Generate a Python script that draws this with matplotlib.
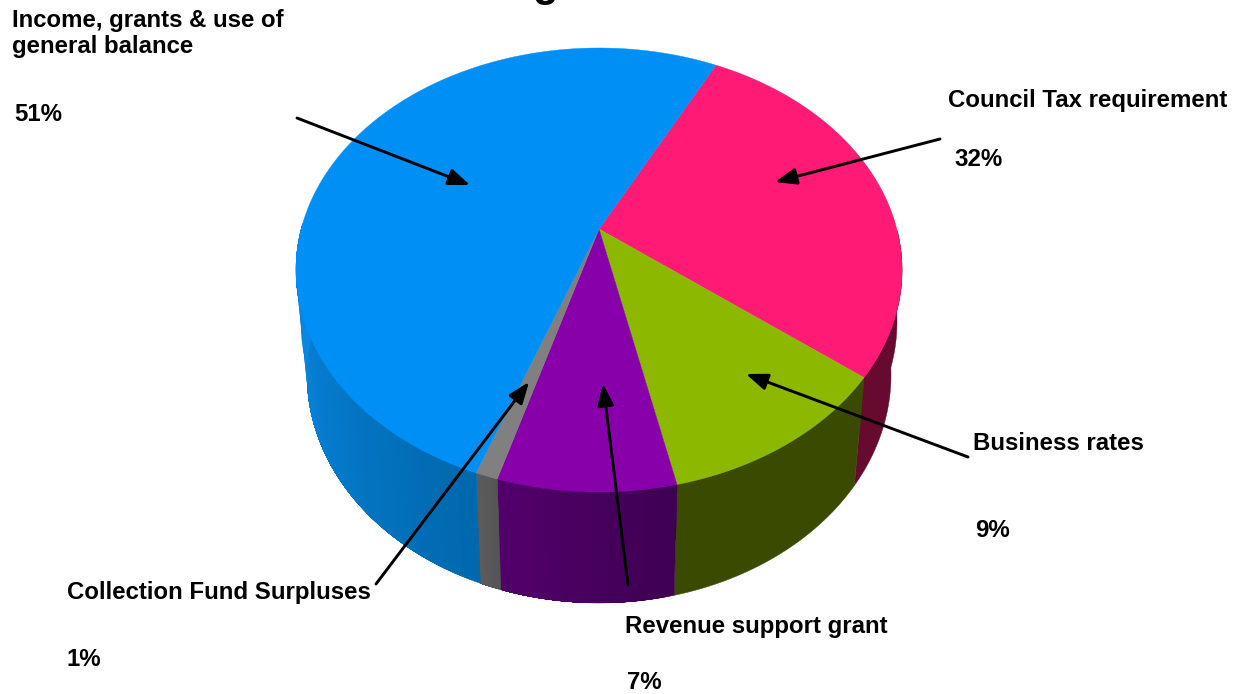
"""Funding pie drawn as a tilted 3D disc, in pixel coordinates of the picture."""

import numpy as np
import matplotlib
matplotlib.use("Agg")
import matplotlib.pyplot as plt

plt.rcParams['font.family'] = ['Liberation Sans', 'DejaVu Sans']

# slices as they sit on the picture, clockwise from the start angle
labels = ["Council Tax requirement", "Business rates", "Revenue support grant",
          "Collection Fund Surpluses", "Income, grants & use of\ngeneral balance"]
percent_text = ["32%", "9%", "7%", "1%", "51%"]
drawn_share = [26.75, 12.8, 9.6, 1.2, 49.65]
top_colors = ["#ff1a75", "#8cb800", "#8800aa", "#808080", "#0090f5"]
wall_colors_a = ["#660a30", "#3a4a00", "#3e0052", "#555555", "#0068ad"]
wall_colors_b = ["#660a30", "#3a4a00", "#52006b", "#5c5c5c", "#0a8ae6"]
start_angle = 22.7

apex = (599, 229)
top_c, top_r = (599, 270), (303, 222)
mid_c, mid_r = (599, 322), (298, 225)
bot_c, bot_r = (599, 375), (292, 228)


def rim(center, radius, t_deg):
    t = np.radians(t_deg)
    return center[0] + radius[0] * np.sin(t), center[1] - radius[1] * np.cos(t)


def band(t_values, c_inner, r_inner, c_outer, r_outer):
    xa, ya = rim(c_inner, r_inner, t_values)
    xb, yb = rim(c_outer, r_outer, t_values)
    return np.r_[xa, xb[::-1]], np.r_[ya, yb[::-1]]


fig = plt.figure(figsize=(12.38, 6.94), dpi=100)
ax = fig.add_axes([0, 0, 1, 1])
ax.set_xlim(0, 1238)
ax.set_ylim(694, 0)
ax.axis('off')

edges = start_angle + np.cumsum([0] + drawn_share) * 3.6

# side wall first, only the front part can be seen
for i in range(len(drawn_share)):
    t0, t1 = max(edges[i], 80), min(edges[i + 1], 282)
    if t1 <= t0:
        continue
    ts = np.linspace(t0, t1, 120)
    # rounded shoulder of the wall at both sides of the disc
    ax.fill(*band(ts, top_c, top_r, mid_c, mid_r), color=wall_colors_b[i], lw=0.3, zorder=1)
    # solid base so the shading bands leave no seams
    ax.fill(*band(ts, top_c, top_r, bot_c, bot_r), color=wall_colors_a[i], lw=0.3, zorder=1)
    if wall_colors_a[i] != wall_colors_b[i]:
        ca = np.array(matplotlib.colors.to_rgb(wall_colors_a[i]))
        cb = np.array(matplotlib.colors.to_rgb(wall_colors_b[i]))
        for k in range(1, 40):
            # each band runs from its own angle to the far end of the slice
            ax.fill(*band(ts[k * 3:], top_c, top_r, bot_c, bot_r),
                    color=ca + (cb - ca) * k / 39, lw=0, zorder=1)

# top face, slices meet at the apex and not at the ellipse centre
for i in range(len(drawn_share)):
    ts = np.linspace(edges[i], edges[i + 1], 200)
    x, y = rim(top_c, top_r, ts)
    ax.fill(np.r_[apex[0], x], np.r_[apex[1], y], color=top_colors[i], lw=0.3, zorder=2)

# arrows: tail then head
arrow_tails = [(940, 139), (968, 457), (628, 585), (376, 584), (297, 118)]
arrow_heads = [(775, 182), (746, 374), (603, 384), (529, 382), (470, 185)]
for tail, head in zip(arrow_tails, arrow_heads):
    ax.annotate("", xy=head, xytext=tail, zorder=3,
                arrowprops=dict(arrowstyle="-|>,head_length=1.3,head_width=0.5",
                                color="black", lw=2.1, shrinkA=0, shrinkB=0))

# text positions, top left corner of each block
name_pos = [(948, 89), (973, 432), (625, 615), (67, 581), (12, 9)]
pct_pos = [(954, 148), (975, 519), (627, 671), (67, 648), (14, 103)]
for i in range(len(labels)):
    ax.text(*name_pos[i], labels[i], fontsize=17.3, fontweight='bold', va='top',
            ha='left', linespacing=1.19, zorder=4)
    ax.text(*pct_pos[i], percent_text[i], fontsize=17.3, fontweight='bold', va='top',
            ha='left', zorder=4)

# title is cut by the top of the picture, only a descender shows
ax.text(545, 5, "g", fontsize=30, fontweight='bold', ha='center', va='bottom', zorder=4)

fig.savefig("out.png", dpi=100)
